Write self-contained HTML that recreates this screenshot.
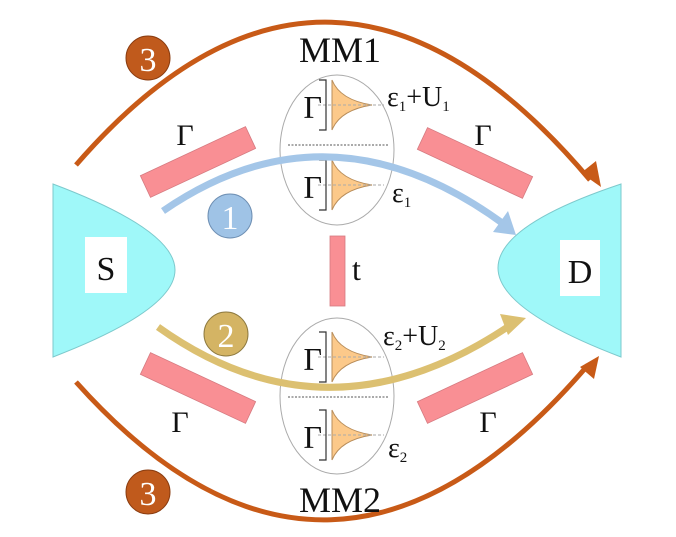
<!DOCTYPE html>
<html><head><meta charset="utf-8"><style>
html,body{margin:0;padding:0;background:#fff}
svg{display:block}
text{font-family:"Liberation Serif",serif;fill:#111}
</style></head><body>
<svg width="676" height="537" viewBox="0 0 676 537" xmlns="http://www.w3.org/2000/svg">
<defs>
<g id="lor">
  <path d="M0,0 Q8,20 40,25 Q8,30 0,50 Z" fill="#fcc98a" stroke="#b88d5a" stroke-width="1"/>
  <line x1="-14" y1="25" x2="52" y2="25" stroke="#aaa" stroke-width="1" stroke-dasharray="3,2"/>
  <path d="M-13,0 H-6 V50 H-13" fill="none" stroke="#333" stroke-width="1.2"/>
  <text x="-10" y="38" font-size="32" text-anchor="end">Γ</text>
</g>
</defs>
<!-- orange arcs -->
<path d="M76,165 Q330,-128 590,180" fill="none" stroke="#c85a17" stroke-width="5"/>
<polygon points="601,187 581,173 596,161" fill="#c85a17"/>
<path d="M76,382 Q330,666 588,365" fill="none" stroke="#c85a17" stroke-width="5"/>
<polygon points="599,356 594,379 580,367" fill="#c85a17"/>
<circle cx="148" cy="58" r="22" fill="#c05a1c" stroke="#8a3c10" stroke-width="1"/>
<text x="148" y="71" font-size="34" text-anchor="middle" style="fill:#fff">3</text>
<circle cx="148" cy="492" r="22" fill="#c05a1c" stroke="#8a3c10" stroke-width="1"/>
<text x="148" y="505" font-size="34" text-anchor="middle" style="fill:#fff">3</text>
<!-- S and D -->
<path d="M53,184 Q175,230 175,270 Q175,310 53,357 Z" fill="#9ff8f9" stroke="#7dc9cc" stroke-width="1"/>
<rect x="85" y="237" width="42" height="56" fill="#fff"/>
<text x="106" y="280" font-size="34" text-anchor="middle">S</text>
<path d="M621,184 Q498,225 498,268 Q498,310 621,357 Z" fill="#9ff8f9" stroke="#7dc9cc" stroke-width="1"/>
<rect x="560" y="240" width="40" height="56" fill="#fff"/>
<text x="580" y="283" font-size="34" text-anchor="middle">D</text>
<!-- pink bars -->
<g fill="#f98f94" stroke="#d57a80" stroke-width="0.8">
<rect x="-58" y="-12" width="116" height="24" transform="translate(198,162) rotate(-25)"/>
<rect x="-58" y="-12" width="116" height="24" transform="translate(475,163) rotate(25)"/>
<rect x="-58" y="-12" width="116" height="24" transform="translate(198,388) rotate(25)"/>
<rect x="-58" y="-12" width="116" height="24" transform="translate(475,388) rotate(-25)"/>
<rect x="330" y="236" width="15" height="70"/>
</g>
<text x="185" y="145" font-size="30" text-anchor="middle">Γ</text>
<text x="483" y="145" font-size="30" text-anchor="middle">Γ</text>
<text x="180" y="432" font-size="30" text-anchor="middle">Γ</text>
<text x="488" y="432" font-size="30" text-anchor="middle">Γ</text>
<text x="352" y="280" font-size="32">t</text>
<!-- ellipses -->
<ellipse cx="337" cy="150" rx="57" ry="75" fill="none" stroke="#aaa" stroke-width="1"/>
<ellipse cx="337" cy="396" rx="57" ry="78" fill="none" stroke="#aaa" stroke-width="1"/>
<line x1="288" y1="145" x2="388" y2="145" stroke="#555" stroke-width="1" stroke-dasharray="2,1.5"/>
<line x1="288" y1="397" x2="388" y2="397" stroke="#555" stroke-width="1" stroke-dasharray="2,1.5"/>
<use href="#lor" x="332" y="80"/>
<use href="#lor" x="332" y="160"/>
<use href="#lor" x="332" y="332"/>
<use href="#lor" x="332" y="410"/>
<!-- blue arc -->
<path d="M163,211 Q330,96 505,225" fill="none" stroke="#a4c6e8" stroke-width="7"/>
<polygon points="516,235 493,232 508,211" fill="#a4c6e8"/>
<circle cx="230" cy="216" r="22" fill="#9fc3e6" stroke="#6e8fb3" stroke-width="1"/>
<text x="230" y="229" font-size="34" text-anchor="middle" style="fill:#fff">1</text>
<!-- yellow arc -->
<path d="M158,327 Q330,450 515,322" fill="none" stroke="#dcc071" stroke-width="7"/>
<polygon points="526,318 508,335 500,314" fill="#dcc071"/>
<circle cx="226" cy="334" r="22" fill="#d4b464" stroke="#8e7a40" stroke-width="1"/>
<text x="226" y="347" font-size="34" text-anchor="middle" style="fill:#fff">2</text>
<!-- labels -->
<text x="340" y="62" font-size="36" text-anchor="middle">MM1</text>
<text x="340" y="512" font-size="36" text-anchor="middle">MM2</text>
<text x="387" y="106" font-size="28">ε<tspan font-size="15" dy="5">1</tspan><tspan dy="-5">+U</tspan><tspan font-size="15" dy="5">1</tspan></text>
<text x="392" y="202" font-size="28">ε<tspan font-size="15" dy="5">1</tspan></text>
<text x="383" y="345" font-size="28">ε<tspan font-size="15" dy="5">2</tspan><tspan dy="-5">+U</tspan><tspan font-size="15" dy="5">2</tspan></text>
<text x="388" y="457" font-size="28">ε<tspan font-size="15" dy="5">2</tspan></text>
</svg>
</body></html>
